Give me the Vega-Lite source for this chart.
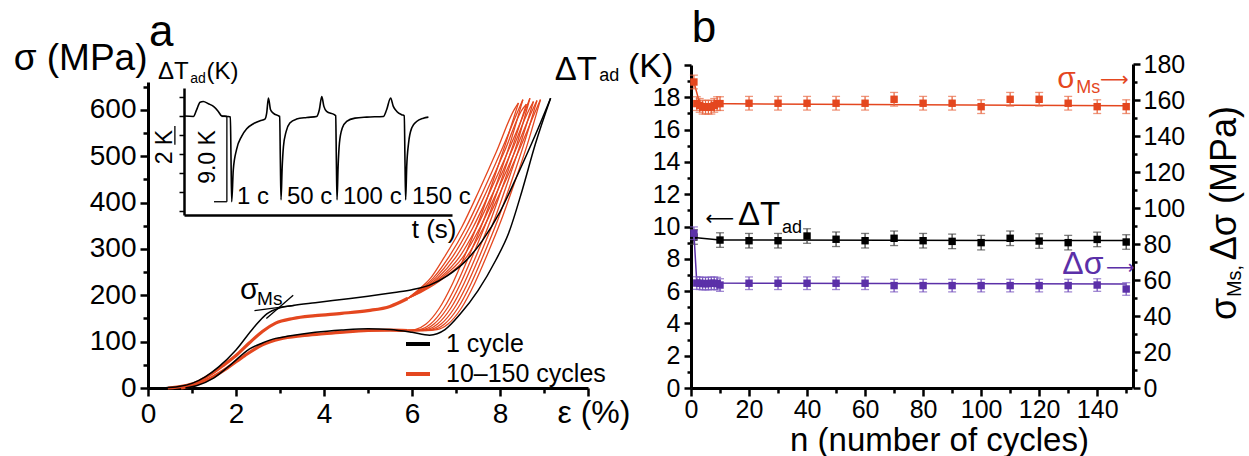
{
"$schema": "https://vega.github.io/schema/vega-lite/v6.json",
"width": 1249, "height": 456, "padding": 0, "autosize": {"type": "none"},
"background": "white",
"config": {
  "view": {"stroke": null},
  "font": "Liberation Sans",
  "axis": {"grid": false, "domainColor": "black", "domainWidth": 3, "tickColor": "black", "tickWidth": 2.5, "labelColor": "black", "titleColor": "black", "labelFont": "Liberation Sans", "titleFont": "Liberation Sans", "titleFontWeight": "normal", "labelFlush": false, "labelOverlap": false, "labelBound": false},
  "legend": {"labelFont": "Liberation Sans"},
  "text": {"font": "Liberation Sans", "color": "black"}
},
"datasets": {
  "redLow": [
    {"branch":"rlL","series":"10–150 cycles","strain":0.45,"stress":0},{"branch":"rlL","series":"10–150 cycles","strain":0.8,"stress":4},{"branch":"rlL","series":"10–150 cycles","strain":1.1,"stress":12},{"branch":"rlL","series":"10–150 cycles","strain":1.4,"stress":28},{"branch":"rlL","series":"10–150 cycles","strain":1.7,"stress":48},{"branch":"rlL","series":"10–150 cycles","strain":2.0,"stress":70},{"branch":"rlL","series":"10–150 cycles","strain":2.3,"stress":97},{"branch":"rlL","series":"10–150 cycles","strain":2.6,"stress":122},{"branch":"rlL","series":"10–150 cycles","strain":2.9,"stress":140},{"branch":"rlL","series":"10–150 cycles","strain":3.3,"stress":150},{"branch":"rlL","series":"10–150 cycles","strain":3.8,"stress":156},{"branch":"rlL","series":"10–150 cycles","strain":4.4,"stress":161},{"branch":"rlL","series":"10–150 cycles","strain":5.0,"stress":167},{"branch":"rlL","series":"10–150 cycles","strain":5.5,"stress":176},{"branch":"rlL","series":"10–150 cycles","strain":5.9,"stress":193},
    {"branch":"rlU","series":"10–150 cycles","strain":0.75,"stress":0},{"branch":"rlU","series":"10–150 cycles","strain":1.0,"stress":5},{"branch":"rlU","series":"10–150 cycles","strain":1.4,"stress":20},{"branch":"rlU","series":"10–150 cycles","strain":1.8,"stress":43},{"branch":"rlU","series":"10–150 cycles","strain":2.2,"stress":70},{"branch":"rlU","series":"10–150 cycles","strain":2.6,"stress":93},{"branch":"rlU","series":"10–150 cycles","strain":3.0,"stress":106},{"branch":"rlU","series":"10–150 cycles","strain":3.5,"stress":113},{"branch":"rlU","series":"10–150 cycles","strain":4.0,"stress":117},{"branch":"rlU","series":"10–150 cycles","strain":4.5,"stress":121},{"branch":"rlU","series":"10–150 cycles","strain":5.0,"stress":124},{"branch":"rlU","series":"10–150 cycles","strain":5.5,"stress":125},{"branch":"rlU","series":"10–150 cycles","strain":5.9,"stress":124}
  ],
  "redHigh": [
    {"branch":"r1L","series":"10–150 cycles","strain":5.9,"stress":193},{"branch":"r1L","series":"10–150 cycles","strain":6.12,"stress":210},{"branch":"r1L","series":"10–150 cycles","strain":6.43,"stress":238},{"branch":"r1L","series":"10–150 cycles","strain":6.72,"stress":280},{"branch":"r1L","series":"10–150 cycles","strain":7.12,"stress":345},{"branch":"r1L","series":"10–150 cycles","strain":7.52,"stress":425},{"branch":"r1L","series":"10–150 cycles","strain":7.92,"stress":510},{"branch":"r1L","series":"10–150 cycles","strain":8.32,"stress":600},{"branch":"r1L","series":"10–150 cycles","strain":8.42,"stress":615},
    {"branch":"r1U","series":"10–150 cycles","strain":8.42,"stress":615},{"branch":"r1U","series":"10–150 cycles","strain":8.12,"stress":525},{"branch":"r1U","series":"10–150 cycles","strain":7.82,"stress":440},{"branch":"r1U","series":"10–150 cycles","strain":7.52,"stress":360},{"branch":"r1U","series":"10–150 cycles","strain":7.22,"stress":290},{"branch":"r1U","series":"10–150 cycles","strain":6.92,"stress":225},{"branch":"r1U","series":"10–150 cycles","strain":6.62,"stress":172},{"branch":"r1U","series":"10–150 cycles","strain":6.32,"stress":138},{"branch":"r1U","series":"10–150 cycles","strain":6.07,"stress":126},{"branch":"r1U","series":"10–150 cycles","strain":5.9,"stress":124},
    {"branch":"r2L","series":"10–150 cycles","strain":5.9,"stress":193},{"branch":"r2L","series":"10–150 cycles","strain":6.15,"stress":210},{"branch":"r2L","series":"10–150 cycles","strain":6.49,"stress":238},{"branch":"r2L","series":"10–150 cycles","strain":6.82,"stress":280},{"branch":"r2L","series":"10–150 cycles","strain":7.22,"stress":345},{"branch":"r2L","series":"10–150 cycles","strain":7.62,"stress":425},{"branch":"r2L","series":"10–150 cycles","strain":8.02,"stress":510},{"branch":"r2L","series":"10–150 cycles","strain":8.42,"stress":600},{"branch":"r2L","series":"10–150 cycles","strain":8.52,"stress":622},
    {"branch":"r2U","series":"10–150 cycles","strain":8.52,"stress":622},{"branch":"r2U","series":"10–150 cycles","strain":8.22,"stress":525},{"branch":"r2U","series":"10–150 cycles","strain":7.92,"stress":440},{"branch":"r2U","series":"10–150 cycles","strain":7.62,"stress":360},{"branch":"r2U","series":"10–150 cycles","strain":7.32,"stress":290},{"branch":"r2U","series":"10–150 cycles","strain":7.02,"stress":225},{"branch":"r2U","series":"10–150 cycles","strain":6.72,"stress":172},{"branch":"r2U","series":"10–150 cycles","strain":6.42,"stress":138},{"branch":"r2U","series":"10–150 cycles","strain":6.17,"stress":126},{"branch":"r2U","series":"10–150 cycles","strain":5.9,"stress":124},
    {"branch":"r3L","series":"10–150 cycles","strain":5.9,"stress":193},{"branch":"r3L","series":"10–150 cycles","strain":6.17,"stress":210},{"branch":"r3L","series":"10–150 cycles","strain":6.54,"stress":238},{"branch":"r3L","series":"10–150 cycles","strain":6.9,"stress":280},{"branch":"r3L","series":"10–150 cycles","strain":7.3,"stress":345},{"branch":"r3L","series":"10–150 cycles","strain":7.7,"stress":425},{"branch":"r3L","series":"10–150 cycles","strain":8.1,"stress":510},{"branch":"r3L","series":"10–150 cycles","strain":8.5,"stress":600},{"branch":"r3L","series":"10–150 cycles","strain":8.6,"stress":612},
    {"branch":"r3U","series":"10–150 cycles","strain":8.6,"stress":612},{"branch":"r3U","series":"10–150 cycles","strain":8.3,"stress":525},{"branch":"r3U","series":"10–150 cycles","strain":8.0,"stress":440},{"branch":"r3U","series":"10–150 cycles","strain":7.7,"stress":360},{"branch":"r3U","series":"10–150 cycles","strain":7.4,"stress":290},{"branch":"r3U","series":"10–150 cycles","strain":7.1,"stress":225},{"branch":"r3U","series":"10–150 cycles","strain":6.8,"stress":172},{"branch":"r3U","series":"10–150 cycles","strain":6.5,"stress":138},{"branch":"r3U","series":"10–150 cycles","strain":6.25,"stress":126},{"branch":"r3U","series":"10–150 cycles","strain":6.0,"stress":124},{"branch":"r3U","series":"10–150 cycles","strain":5.9,"stress":124},
    {"branch":"r4L","series":"10–150 cycles","strain":5.9,"stress":193},{"branch":"r4L","series":"10–150 cycles","strain":6.19,"stress":210},{"branch":"r4L","series":"10–150 cycles","strain":6.59,"stress":238},{"branch":"r4L","series":"10–150 cycles","strain":6.98,"stress":280},{"branch":"r4L","series":"10–150 cycles","strain":7.38,"stress":345},{"branch":"r4L","series":"10–150 cycles","strain":7.78,"stress":425},{"branch":"r4L","series":"10–150 cycles","strain":8.18,"stress":510},{"branch":"r4L","series":"10–150 cycles","strain":8.58,"stress":600},{"branch":"r4L","series":"10–150 cycles","strain":8.68,"stress":625},
    {"branch":"r4U","series":"10–150 cycles","strain":8.68,"stress":625},{"branch":"r4U","series":"10–150 cycles","strain":8.38,"stress":525},{"branch":"r4U","series":"10–150 cycles","strain":8.08,"stress":440},{"branch":"r4U","series":"10–150 cycles","strain":7.78,"stress":360},{"branch":"r4U","series":"10–150 cycles","strain":7.48,"stress":290},{"branch":"r4U","series":"10–150 cycles","strain":7.18,"stress":225},{"branch":"r4U","series":"10–150 cycles","strain":6.88,"stress":172},{"branch":"r4U","series":"10–150 cycles","strain":6.58,"stress":138},{"branch":"r4U","series":"10–150 cycles","strain":6.33,"stress":126},{"branch":"r4U","series":"10–150 cycles","strain":6.08,"stress":124},{"branch":"r4U","series":"10–150 cycles","strain":5.9,"stress":124},
    {"branch":"r5L","series":"10–150 cycles","strain":5.9,"stress":193},{"branch":"r5L","series":"10–150 cycles","strain":6.22,"stress":210},{"branch":"r5L","series":"10–150 cycles","strain":6.64,"stress":238},{"branch":"r5L","series":"10–150 cycles","strain":7.06,"stress":280},{"branch":"r5L","series":"10–150 cycles","strain":7.46,"stress":345},{"branch":"r5L","series":"10–150 cycles","strain":7.86,"stress":425},{"branch":"r5L","series":"10–150 cycles","strain":8.26,"stress":510},{"branch":"r5L","series":"10–150 cycles","strain":8.66,"stress":600},{"branch":"r5L","series":"10–150 cycles","strain":8.76,"stress":618},
    {"branch":"r5U","series":"10–150 cycles","strain":8.76,"stress":618},{"branch":"r5U","series":"10–150 cycles","strain":8.46,"stress":525},{"branch":"r5U","series":"10–150 cycles","strain":8.16,"stress":440},{"branch":"r5U","series":"10–150 cycles","strain":7.86,"stress":360},{"branch":"r5U","series":"10–150 cycles","strain":7.56,"stress":290},{"branch":"r5U","series":"10–150 cycles","strain":7.26,"stress":225},{"branch":"r5U","series":"10–150 cycles","strain":6.96,"stress":172},{"branch":"r5U","series":"10–150 cycles","strain":6.66,"stress":138},{"branch":"r5U","series":"10–150 cycles","strain":6.41,"stress":126},{"branch":"r5U","series":"10–150 cycles","strain":6.16,"stress":124},{"branch":"r5U","series":"10–150 cycles","strain":5.9,"stress":124},
    {"branch":"r6L","series":"10–150 cycles","strain":5.9,"stress":193},{"branch":"r6L","series":"10–150 cycles","strain":6.24,"stress":210},{"branch":"r6L","series":"10–150 cycles","strain":6.68,"stress":238},{"branch":"r6L","series":"10–150 cycles","strain":7.14,"stress":280},{"branch":"r6L","series":"10–150 cycles","strain":7.54,"stress":345},{"branch":"r6L","series":"10–150 cycles","strain":7.94,"stress":425},{"branch":"r6L","series":"10–150 cycles","strain":8.34,"stress":510},{"branch":"r6L","series":"10–150 cycles","strain":8.74,"stress":600},{"branch":"r6L","series":"10–150 cycles","strain":8.84,"stress":620},
    {"branch":"r6U","series":"10–150 cycles","strain":8.84,"stress":620},{"branch":"r6U","series":"10–150 cycles","strain":8.54,"stress":525},{"branch":"r6U","series":"10–150 cycles","strain":8.24,"stress":440},{"branch":"r6U","series":"10–150 cycles","strain":7.94,"stress":360},{"branch":"r6U","series":"10–150 cycles","strain":7.64,"stress":290},{"branch":"r6U","series":"10–150 cycles","strain":7.34,"stress":225},{"branch":"r6U","series":"10–150 cycles","strain":7.04,"stress":172},{"branch":"r6U","series":"10–150 cycles","strain":6.74,"stress":138},{"branch":"r6U","series":"10–150 cycles","strain":6.49,"stress":126},{"branch":"r6U","series":"10–150 cycles","strain":6.24,"stress":124},{"branch":"r6U","series":"10–150 cycles","strain":5.9,"stress":124},
    {"branch":"r7L","series":"10–150 cycles","strain":5.9,"stress":193},{"branch":"r7L","series":"10–150 cycles","strain":6.27,"stress":210},{"branch":"r7L","series":"10–150 cycles","strain":6.73,"stress":238},{"branch":"r7L","series":"10–150 cycles","strain":7.22,"stress":280},{"branch":"r7L","series":"10–150 cycles","strain":7.62,"stress":345},{"branch":"r7L","series":"10–150 cycles","strain":8.02,"stress":425},{"branch":"r7L","series":"10–150 cycles","strain":8.42,"stress":510},{"branch":"r7L","series":"10–150 cycles","strain":8.82,"stress":600},{"branch":"r7L","series":"10–150 cycles","strain":8.92,"stress":622},
    {"branch":"r7U","series":"10–150 cycles","strain":8.92,"stress":622},{"branch":"r7U","series":"10–150 cycles","strain":8.62,"stress":525},{"branch":"r7U","series":"10–150 cycles","strain":8.32,"stress":440},{"branch":"r7U","series":"10–150 cycles","strain":8.02,"stress":360},{"branch":"r7U","series":"10–150 cycles","strain":7.72,"stress":290},{"branch":"r7U","series":"10–150 cycles","strain":7.42,"stress":225},{"branch":"r7U","series":"10–150 cycles","strain":7.12,"stress":172},{"branch":"r7U","series":"10–150 cycles","strain":6.82,"stress":138},{"branch":"r7U","series":"10–150 cycles","strain":6.57,"stress":126},{"branch":"r7U","series":"10–150 cycles","strain":6.32,"stress":124},{"branch":"r7U","series":"10–150 cycles","strain":5.9,"stress":124}
  ],
  "black": [
    {"branch":"bL","series":"1 cycle","strain":0.35,"stress":0},{"branch":"bL","series":"1 cycle","strain":0.7,"stress":3},{"branch":"bL","series":"1 cycle","strain":1.0,"stress":10},{"branch":"bL","series":"1 cycle","strain":1.3,"stress":24},{"branch":"bL","series":"1 cycle","strain":1.6,"stress":45},{"branch":"bL","series":"1 cycle","strain":2.0,"stress":82},{"branch":"bL","series":"1 cycle","strain":2.4,"stress":130},{"branch":"bL","series":"1 cycle","strain":2.7,"stress":160},{"branch":"bL","series":"1 cycle","strain":3.0,"stress":173},{"branch":"bL","series":"1 cycle","strain":3.3,"stress":178},{"branch":"bL","series":"1 cycle","strain":3.8,"stress":184},{"branch":"bL","series":"1 cycle","strain":4.4,"stress":191},{"branch":"bL","series":"1 cycle","strain":5.0,"stress":198},{"branch":"bL","series":"1 cycle","strain":5.6,"stress":206},{"branch":"bL","series":"1 cycle","strain":6.0,"stress":212},{"branch":"bL","series":"1 cycle","strain":6.4,"stress":222},{"branch":"bL","series":"1 cycle","strain":6.8,"stress":242},{"branch":"bL","series":"1 cycle","strain":7.2,"stress":272},{"branch":"bL","series":"1 cycle","strain":7.6,"stress":318},{"branch":"bL","series":"1 cycle","strain":8.0,"stress":380},{"branch":"bL","series":"1 cycle","strain":8.4,"stress":460},{"branch":"bL","series":"1 cycle","strain":8.8,"stress":545},{"branch":"bL","series":"1 cycle","strain":9.15,"stress":625},
    {"branch":"bU","series":"1 cycle","strain":0.85,"stress":0},{"branch":"bU","series":"1 cycle","strain":1.1,"stress":5},{"branch":"bU","series":"1 cycle","strain":1.5,"stress":22},{"branch":"bU","series":"1 cycle","strain":1.9,"stress":52},{"branch":"bU","series":"1 cycle","strain":2.3,"stress":84},{"branch":"bU","series":"1 cycle","strain":2.6,"stress":97},{"branch":"bU","series":"1 cycle","strain":2.9,"stress":107},{"branch":"bU","series":"1 cycle","strain":3.2,"stress":112},{"branch":"bU","series":"1 cycle","strain":3.8,"stress":120},{"branch":"bU","series":"1 cycle","strain":4.4,"stress":125},{"branch":"bU","series":"1 cycle","strain":5.0,"stress":128},{"branch":"bU","series":"1 cycle","strain":5.5,"stress":126},{"branch":"bU","series":"1 cycle","strain":6.0,"stress":120},{"branch":"bU","series":"1 cycle","strain":6.4,"stress":114},{"branch":"bU","series":"1 cycle","strain":6.75,"stress":126},{"branch":"bU","series":"1 cycle","strain":7.1,"stress":160},{"branch":"bU","series":"1 cycle","strain":7.5,"stress":210},{"branch":"bU","series":"1 cycle","strain":7.9,"stress":275},{"branch":"bU","series":"1 cycle","strain":8.2,"stress":335},{"branch":"bU","series":"1 cycle","strain":8.5,"stress":425},{"branch":"bU","series":"1 cycle","strain":8.8,"stress":525},{"branch":"bU","series":"1 cycle","strain":9.15,"stress":625}
  ],
  "tangents": [
    {"branch":"t1","strain":2.42,"stress":167},{"branch":"t1","strain":3.33,"stress":178},
    {"branch":"t2","strain":2.69,"stress":150},{"branch":"t2","strain":3.3,"stress":200}
  ],
  "trace": [
    {"t":0.1,"dT":0.05},{"t":3.5,"dT":0},{"t":4.7,"dT":0.7},{"t":6.0,"dT":1.5},{"t":7.2,"dT":1.58},{"t":9.1,"dT":1.34},{"t":11.0,"dT":1.06},{"t":12.8,"dT":0.53},{"t":14.0,"dT":0.07},{"t":16.2,"dT":0},{"t":17.3,"dT":-0.07},{"t":17.55,"dT":-4.6},{"t":17.8,"dT":-9.0},{"t":18.4,"dT":-5.6},{"t":19.6,"dT":-3.5},{"t":21.5,"dT":-2.1},{"t":23.4,"dT":-1.3},{"t":25.9,"dT":-0.77},{"t":28.4,"dT":-0.46},{"t":30.2,"dT":-0.28},{"t":30.85,"dT":0.35},{"t":31.5,"dT":1.94},{"t":32.3,"dT":0.7},{"t":33.3,"dT":0.35},{"t":35.2,"dT":0.07},{"t":35.7,"dT":0},{"t":35.95,"dT":-4.6},{"t":36.2,"dT":-8.8},{"t":36.6,"dT":-5.6},{"t":37.1,"dT":-3.2},{"t":38.1,"dT":-1.6},{"t":39.5,"dT":-0.7},{"t":42.0,"dT":-0.28},{"t":45.8,"dT":-0.11},{"t":49.5,"dT":0},{"t":50.5,"dT":0.7},{"t":51.4,"dT":2.1},{"t":52.2,"dT":1.06},{"t":53.2,"dT":0.53},{"t":56.1,"dT":0.18},{"t":56.6,"dT":0.07},{"t":56.85,"dT":-4.6},{"t":57.1,"dT":-8.8},{"t":57.5,"dT":-5.3},{"t":58.0,"dT":-2.8},{"t":59.1,"dT":-1.2},{"t":60.7,"dT":-0.53},{"t":63.8,"dT":-0.18},{"t":68.2,"dT":-0.07},{"t":74.4,"dT":0},{"t":75.6,"dT":0.7},{"t":77.1,"dT":1.94},{"t":78.1,"dT":1.06},{"t":79.4,"dT":0.53},{"t":81.2,"dT":0.18},{"t":82.2,"dT":0.07},{"t":82.45,"dT":-4.6},{"t":82.7,"dT":-8.8},{"t":83.1,"dT":-5.3},{"t":83.8,"dT":-2.8},{"t":85.0,"dT":-1.2},{"t":86.8,"dT":-0.53},{"t":89.3,"dT":-0.18},{"t":91.2,"dT":-0.07}
  ],
  "bBlack": [
    {"n":1,"v":9.35,"err":0.45},{"n":10,"v":9.16,"err":0.45},{"n":20,"v":9.12,"err":0.45},{"n":30,"v":9.12,"err":0.45},{"n":40,"v":9.41,"err":0.45},{"n":50,"v":9.21,"err":0.45},{"n":60,"v":9.12,"err":0.45},{"n":70,"v":9.27,"err":0.45},{"n":80,"v":9.12,"err":0.45},{"n":90,"v":9.08,"err":0.45},{"n":100,"v":9.0,"err":0.45},{"n":110,"v":9.27,"err":0.45},{"n":120,"v":9.1,"err":0.45},{"n":130,"v":9.0,"err":0.45},{"n":140,"v":9.2,"err":0.45},{"n":150,"v":9.04,"err":0.45}
  ],
  "bBlackLine": [{"n":1,"v":9.32},{"n":10,"v":9.17},{"n":150,"v":9.13}],
  "bRed": [
    {"n":1,"v":170,"err":3.8},{"n":2,"v":158,"err":3.8},{"n":3,"v":157,"err":3.8},{"n":4,"v":156,"err":3.8},{"n":5,"v":156,"err":3.8},{"n":6,"v":156,"err":3.8},{"n":7,"v":156,"err":3.8},{"n":8,"v":157,"err":3.8},{"n":9,"v":158,"err":3.8},{"n":10,"v":158,"err":3.8},{"n":20,"v":158.2,"err":3.8},{"n":30,"v":158.2,"err":3.8},{"n":40,"v":158.2,"err":3.8},{"n":50,"v":158.2,"err":3.8},{"n":60,"v":158.2,"err":3.8},{"n":70,"v":160.4,"err":3.8},{"n":80,"v":158.2,"err":3.8},{"n":90,"v":158.2,"err":3.8},{"n":100,"v":156.3,"err":3.8},{"n":110,"v":160.4,"err":3.8},{"n":120,"v":160.4,"err":3.8},{"n":130,"v":158.2,"err":3.8},{"n":140,"v":156.3,"err":3.8},{"n":150,"v":156.3,"err":3.8}
  ],
  "bRedLine": [{"n":1,"v":170},{"n":3,"v":158},{"n":150,"v":156.8}],
  "bPurple": [
    {"n":1,"v":86,"err":3.5},{"n":2,"v":58.3,"err":3.5},{"n":3,"v":58.2,"err":3.5},{"n":4,"v":58,"err":3.5},{"n":5,"v":58,"err":3.5},{"n":6,"v":58,"err":3.5},{"n":7,"v":58.2,"err":3.5},{"n":8,"v":58.2,"err":3.5},{"n":9,"v":58,"err":3.5},{"n":10,"v":57.2,"err":3.5},{"n":20,"v":58.2,"err":3.5},{"n":30,"v":58.2,"err":3.5},{"n":40,"v":58.2,"err":3.5},{"n":50,"v":58.2,"err":3.5},{"n":60,"v":58.2,"err":3.5},{"n":70,"v":56.9,"err":3.5},{"n":80,"v":56.9,"err":3.5},{"n":90,"v":56.9,"err":3.5},{"n":100,"v":56.9,"err":3.5},{"n":110,"v":56.9,"err":3.5},{"n":120,"v":56.9,"err":3.5},{"n":130,"v":56.9,"err":3.5},{"n":140,"v":57.2,"err":3.5},{"n":150,"v":55,"err":3.5}
  ],
  "bPurpleLine": [{"n":1,"v":86},{"n":2,"v":58.3},{"n":150,"v":57.8}]
},
"layer": [
  {
    "encoding": {
      "x": {"field": "strain", "type": "quantitative",
        "scale": {"domain": [0, 10], "range": [148, 588], "nice": false, "zero": false},
        "axis": {"orient": "bottom", "offset": -68, "values": [0,1,2,3,4,5,6,7,8,9,10],
          "labelExpr": "datum.value % 2 === 0 && datum.value < 10 ? datum.label : ''",
          "labelFontSize": 28, "labelPadding": 4,
          "tickSize": {"condition": {"test": "datum.value % 2 === 0", "value": 8}, "value": 5},
          "title": "ε (%)", "titleFontSize": 32, "titleX": 557, "titleY": 24, "titleAlign": "left", "titleBaseline": "middle", "titleAngle": 0}},
      "y": {"field": "stress", "type": "quantitative",
        "scale": {"domain": [0, 660], "range": [388, 82], "nice": false, "zero": false},
        "axis": {"orient": "left", "offset": -148, "values": [0,50,100,150,200,250,300,350,400,450,500,550,600,650],
          "labelExpr": "datum.value % 100 === 0 ? datum.label : ''",
          "labelFontSize": 28, "labelPadding": 4,
          "tickSize": {"condition": {"test": "datum.value % 100 === 0", "value": 8}, "value": 5},
          "title": "σ (MPa)", "titleFontSize": 37, "titleAngle": 0, "titleX": -1, "titleY": 58, "titleAlign": "right", "titleBaseline": "middle"}}
    },
    "layer": [
      {"data": {"name": "redLow"}, "mark": {"type": "line", "strokeWidth": 3.2, "interpolate": "monotone"},
       "encoding": {"color": {"field": "series", "type": "nominal",
          "scale": {"domain": ["1 cycle", "10–150 cycles"], "range": ["#000000", "#E4471F"]},
          "legend": {"orient": "none", "legendX": 404, "legendY": 330, "title": null, "symbolType": "stroke", "symbolStrokeWidth": 4, "symbolSize": 576, "labelFontSize": 25, "labelOffset": 14, "labelLimit": 400, "rowPadding": 3, "padding": 0, "labelColor": "black"}},
         "detail": {"field": "branch"}}},
      {"data": {"name": "redHigh"}, "mark": {"type": "line", "strokeWidth": 1.3, "interpolate": "monotone"},
       "encoding": {"color": {"field": "series", "type": "nominal"}, "detail": {"field": "branch"}}},
      {"data": {"name": "black"}, "mark": {"type": "line", "strokeWidth": 1.5, "interpolate": "monotone"},
       "encoding": {"color": {"field": "series", "type": "nominal"}, "detail": {"field": "branch"}}},
      {"data": {"name": "tangents"}, "mark": {"type": "line", "color": "black", "strokeWidth": 1.3},
       "encoding": {"detail": {"field": "branch"}}},
      {"data": {"values": [{"strain": 0.3, "stress": 738, "label": "a"}]},
       "mark": {"type": "text", "fontSize": 44, "align": "center", "baseline": "alphabetic"},
       "encoding": {"text": {"field": "label"}}},
      {"data": {"values": [{"strain": 2.09, "stress": 211, "label": "σ"}]},
       "mark": {"type": "text", "fontSize": 30, "align": "left", "baseline": "middle"},
       "encoding": {"text": {"field": "label"}}},
      {"data": {"values": [{"strain": 2.48, "stress": 192, "label": "Ms"}]},
       "mark": {"type": "text", "fontSize": 19, "align": "left", "baseline": "middle"},
       "encoding": {"text": {"field": "label"}}}
    ]
  },
  {
    "encoding": {
      "x": {"field": "t", "type": "quantitative",
        "scale": {"domain": [0, 100], "range": [184, 452], "nice": false, "zero": false},
        "axis": {"orient": "bottom", "offset": -241, "ticks": false, "labels": false, "domainWidth": 2.5,
          "title": "t (s)", "titleFontSize": 26, "titleX": 456, "titleY": 14, "titleAlign": "right", "titleBaseline": "middle", "titleAngle": 0}},
      "y": {"field": "dT", "type": "quantitative",
        "scale": {"domain": [-10.4, 3], "range": [215, 88], "nice": false, "zero": false},
        "axis": {"orient": "left", "offset": -184, "labels": false, "values": [-10,-8,-6,-4,-2,0,2], "tickSize": 5, "tickWidth": 1.5, "domainWidth": 2.5, "title": null}}
    },
    "layer": [
      {"data": {"name": "trace"}, "mark": {"type": "line", "color": "black", "strokeWidth": 1.6, "interpolate": "monotone"}},
      {"data": {"values": [{"t": 16, "t2": 16, "dT": 0, "dT2": -9}, {"t": 11.2, "t2": 16, "dT": -9, "dT2": -9}, {"t": 14, "t2": 16, "dT": 0, "dT2": 0}, {"t": -3.4, "t2": -3.4, "dT": -1, "dT2": -3}]},
       "mark": {"type": "rule", "color": "black", "strokeWidth": 1.3},
       "encoding": {"x2": {"field": "t2"}, "y2": {"field": "dT2"}}},
      {"data": {"values": [{"t": -9.7, "dT": 4.69, "label": "ΔT"}, {"t": 8.4, "dT": 4.69, "label": "(K)"}]},
       "mark": {"type": "text", "fontSize": 24, "align": "left", "baseline": "middle"},
       "encoding": {"text": {"field": "label"}}},
      {"data": {"values": [{"t": 2.3, "dT": 3.9, "label": "ad"}]},
       "mark": {"type": "text", "fontSize": 14, "align": "left", "baseline": "middle"},
       "encoding": {"text": {"field": "label"}}},
      {"data": {"values": [{"t": -7.1, "dT": -3.23, "label": "2 K"}, {"t": 9.0, "dT": -4.28, "label": "9.0 K"}]},
       "mark": {"type": "text", "fontSize": 23, "align": "center", "baseline": "middle", "angle": 270},
       "encoding": {"text": {"field": "label"}}},
      {"data": {"values": [{"t": 19.8, "dT": -8.5, "label": "1 c"}, {"t": 38.4, "dT": -8.5, "label": "50 c"}, {"t": 59.3, "dT": -8.5, "label": "100 c"}, {"t": 85.1, "dT": -8.5, "label": "150 c"}]},
       "mark": {"type": "text", "fontSize": 24, "align": "left", "baseline": "middle"},
       "encoding": {"text": {"field": "label"}}}
    ]
  },
  {
    "encoding": {
      "x": {"field": "n", "type": "quantitative",
        "scale": {"domain": [0, 152], "range": [691, 1132], "nice": false, "zero": false},
        "axis": {"orient": "bottom", "offset": -68, "values": [0,10,20,30,40,50,60,70,80,90,100,110,120,130,140,150],
          "labelExpr": "datum.value % 20 === 0 ? datum.label : ''",
          "labelFontSize": 25, "labelPadding": 1,
          "tickSize": {"condition": {"test": "datum.value % 20 === 0", "value": 8}, "value": 5},
          "title": "n (number of cycles)", "titleFontSize": 33, "titleX": 939, "titleY": 52, "titleAlign": "center", "titleBaseline": "middle", "titleAngle": 0}},
      "y": {"field": "v", "type": "quantitative",
        "scale": {"domain": [0, 20], "range": [388, 65], "nice": false, "zero": false},
        "axis": {"orient": "left", "offset": -691, "values": [0,1,2,3,4,5,6,7,8,9,10,11,12,13,14,15,16,17,18,19,20],
          "labelExpr": "datum.value % 2 === 0 && datum.value < 20 ? datum.label : ''",
          "labelFontSize": 25, "labelPadding": 4,
          "tickSize": {"condition": {"test": "datum.value % 2 === 0", "value": 7}, "value": 4},
          "title": null}}
    },
    "layer": [
      {"data": {"name": "bBlackLine"}, "mark": {"type": "line", "color": "black", "strokeWidth": 1.5}},
      {"data": {"name": "bBlack"}, "mark": {"type": "errorbar", "ticks": true, "size": 8, "thickness": 1.3, "color": "#444444"},
       "encoding": {"yError": {"field": "err"}}},
      {"data": {"name": "bBlack"}, "mark": {"type": "square", "size": 55, "filled": true, "color": "black", "opacity": 1}},
      {"data": {"values": [{"n": 4.5, "v": 21.4, "label": "b"}]},
       "mark": {"type": "text", "fontSize": 44, "align": "center", "baseline": "alphabetic"},
       "encoding": {"text": {"field": "label"}}},
      {"data": {"values": [{"n": -47.0, "v": 19.72, "label": "ΔT"}, {"n": 16.2, "v": 10.71, "label": "ΔT"}]},
       "mark": {"type": "text", "fontSize": 33, "align": "left", "baseline": "middle"},
       "encoding": {"text": {"field": "label"}}},
      {"data": {"values": [{"n": -31.6, "v": 19.3, "label": "ad"}, {"n": 31.4, "v": 9.9, "label": "ad"}]},
       "mark": {"type": "text", "fontSize": 18, "align": "left", "baseline": "middle"},
       "encoding": {"text": {"field": "label"}}},
      {"data": {"values": [{"n": -21.7, "v": 19.9, "label": "(K)"}]},
       "mark": {"type": "text", "fontSize": 34, "align": "left", "baseline": "middle"},
       "encoding": {"text": {"field": "label"}}},
      {"data": {"values": [{"n": 5.0, "v": 10.45, "label": "⟵"}]},
       "mark": {"type": "text", "fontSize": 20, "font": "DejaVu Sans", "align": "left", "baseline": "middle"},
       "encoding": {"text": {"field": "label"}}}
    ]
  },
  {
    "encoding": {
      "x": {"field": "n", "type": "quantitative",
        "scale": {"domain": [0, 152], "range": [691, 1132], "nice": false, "zero": false}, "axis": null},
      "y": {"field": "v", "type": "quantitative",
        "scale": {"domain": [0, 180], "range": [388, 64], "nice": false, "zero": false},
        "axis": {"orient": "right", "offset": -116, "values": [0,10,20,30,40,50,60,70,80,90,100,110,120,130,140,150,160,170,180],
          "labelExpr": "datum.value % 20 === 0 ? datum.label : ''",
          "labelFontSize": 25, "labelPadding": 3,
          "tickSize": {"condition": {"test": "datum.value % 20 === 0", "value": 7}, "value": 4},
          "title": null}}
    },
    "layer": [
      {"data": {"name": "bRedLine"}, "mark": {"type": "line", "color": "#E4471F", "strokeWidth": 1.5}},
      {"data": {"name": "bPurpleLine"}, "mark": {"type": "line", "color": "#5B30A8", "strokeWidth": 1.5}},
      {"data": {"name": "bRed"}, "mark": {"type": "errorbar", "ticks": true, "size": 8, "thickness": 1.3, "color": "#E86A45"},
       "encoding": {"yError": {"field": "err"}}},
      {"data": {"name": "bPurple"}, "mark": {"type": "errorbar", "ticks": true, "size": 8, "thickness": 1.3, "color": "#7A58C0"},
       "encoding": {"yError": {"field": "err"}}},
      {"data": {"name": "bRed"}, "mark": {"type": "square", "size": 55, "filled": true, "color": "#E4471F", "opacity": 1}},
      {"data": {"name": "bPurple"}, "mark": {"type": "square", "size": 55, "filled": true, "color": "#5B30A8", "opacity": 1}},
      {"data": {"values": [{"n": 126.2, "v": 171.7, "label": "σ"}]},
       "mark": {"type": "text", "fontSize": 30, "align": "left", "baseline": "middle", "color": "#E4471F"},
       "encoding": {"text": {"field": "label"}}},
      {"data": {"values": [{"n": 132.8, "v": 166.7, "label": "Ms"}]},
       "mark": {"type": "text", "fontSize": 18, "align": "left", "baseline": "middle", "color": "#E4471F"},
       "encoding": {"text": {"field": "label"}}},
      {"data": {"values": [{"n": 141.0, "v": 171.0, "label": "⟶"}]},
       "mark": {"type": "text", "fontSize": 20, "font": "DejaVu Sans", "align": "left", "baseline": "middle", "color": "#E4471F"},
       "encoding": {"text": {"field": "label"}}},
      {"data": {"values": [{"n": 128, "v": 68.9, "label": "Δσ"}]},
       "mark": {"type": "text", "fontSize": 32, "align": "left", "baseline": "middle", "color": "#5B30A8"},
       "encoding": {"text": {"field": "label"}}},
      {"data": {"values": [{"n": 143.0, "v": 66.5, "label": "⟶"}]},
       "mark": {"type": "text", "fontSize": 20, "font": "DejaVu Sans", "align": "left", "baseline": "middle", "color": "#5B30A8"},
       "encoding": {"text": {"field": "label"}}},
      {"data": {"values": [{"n": 184.2, "v": 37.8, "label": "σ"}, {"n": 184.2, "v": 71, "label": "Δσ (MPa)"}]},
       "mark": {"type": "text", "fontSize": 36, "align": "left", "baseline": "middle", "angle": 270},
       "encoding": {"text": {"field": "label"}}},
      {"data": {"values": [{"n": 187.6, "v": 50.5, "label": "Ms,"}]},
       "mark": {"type": "text", "fontSize": 20, "align": "left", "baseline": "middle", "angle": 270},
       "encoding": {"text": {"field": "label"}}}
    ]
  }
],
"resolve": {"scale": {"x": "independent", "y": "independent"}}
}
